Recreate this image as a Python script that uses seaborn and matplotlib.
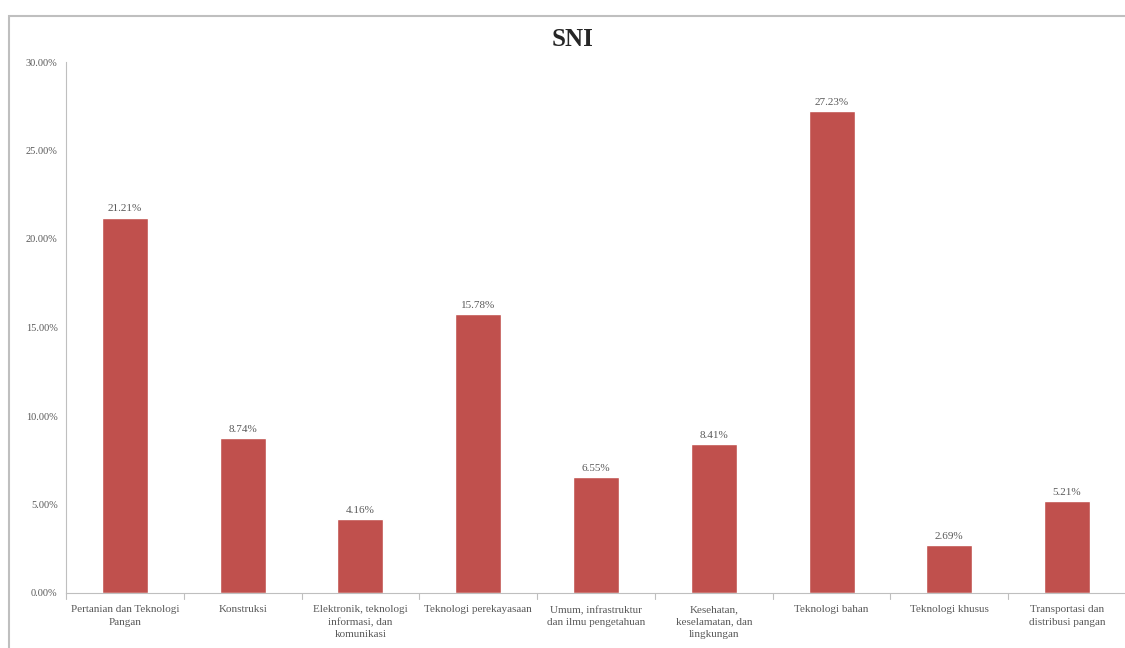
import matplotlib
matplotlib.use("Agg")
import matplotlib.pyplot as plt
from matplotlib.patches import Rectangle
from matplotlib.ticker import FuncFormatter, MultipleLocator
import seaborn as sns
import pandas as pd

# Share of SNI standards per field (percent)
categories = [
    "Pertanian dan Teknologi\nPangan",
    "Konstruksi",
    "Elektronik, teknologi\ninformasi, dan\nkomunikasi",
    "Teknologi perekayasaan",
    "Umum, infrastruktur\ndan ilmu pengetahuan",
    "Kesehatan,\nkeselamatan, dan\nlingkungan",
    "Teknologi bahan",
    "Teknologi khusus",
    "Transportasi dan\ndistribusi pangan",
]
values = [21.21, 8.74, 4.16, 15.78, 6.55, 8.41, 27.23, 2.69, 5.21]

df = pd.DataFrame({"bidang": categories, "persen": values})

sns.set_theme(style="white")
plt.rcParams["font.family"] = ["Liberation Serif", "DejaVu Serif"]

bar_color = "#C0504D"
text_color = "#595959"
axis_color = "#BFBFBF"

fig = plt.figure(figsize=(11.25, 6.48), dpi=100)
fig.patch.set_facecolor("white")
ax = fig.add_axes([66 / 1125, 1 - 593 / 648, 1060 / 1125, (593 - 62) / 648])

sns.barplot(data=df, x="bidang", y="persen", color=bar_color, width=0.39,
            saturation=1, ax=ax)

ax.set_ylim(0, 30)
ax.set_xlim(-0.5, len(categories) - 0.5)
ax.yaxis.set_major_locator(MultipleLocator(5))
ax.yaxis.set_major_formatter(FuncFormatter(lambda v, _: f"{v:.2f}%"))
ax.set_xlabel("")
ax.set_ylabel("")

for side in ("top", "right"):
    ax.spines[side].set_visible(False)
for side in ("left", "bottom"):
    ax.spines[side].set_color(axis_color)
    ax.spines[side].set_linewidth(0.8)

ax.tick_params(axis="y", labelsize=7.5, labelcolor=text_color, length=0, pad=6)
ax.tick_params(axis="x", labelsize=8, labelcolor=text_color, length=0, pad=9)
for lbl in ax.get_xticklabels():
    lbl.set_linespacing(1.45)

# Category separator tick marks below the axis
for i in range(len(categories) + 1):
    ax.plot([i - 0.5, i - 0.5], [0, -0.35], color=axis_color, lw=0.8,
            clip_on=False)

ax.bar_label(ax.containers[0], labels=[f"{v:.2f}%" for v in values],
             fontsize=8, color=text_color, padding=3)

fig.text(573 / 1125, 1 - 40 / 648, "SNI", ha="center", va="center",
         fontsize=18, fontweight="bold", color="#262626")

# Chart frame
fig.patches.append(Rectangle((8.5 / 1125, -0.05), 1.1, 1 - 16 / 648 + 0.05,
                             transform=fig.transFigure, fill=False,
                             edgecolor="#BFBFBF", lw=1.5, zorder=0))

fig.savefig("out.png", dpi=100)
